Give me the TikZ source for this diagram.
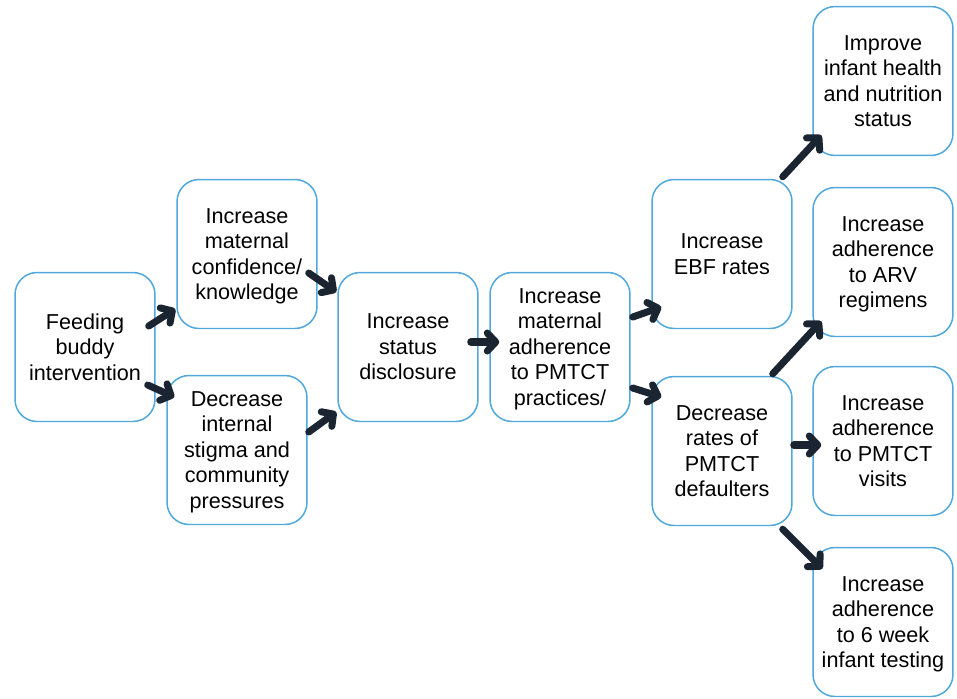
\documentclass[tikz,border=0pt]{standalone}
\usepackage{fontspec}
\setmainfont{Liberation Sans}
\usepackage{xcolor}
\usetikzlibrary{positioning, arrows.meta}

\definecolor{boxblue}{RGB}{80,168,220}
\definecolor{arrownavy}{RGB}{27,37,50}

\begin{document}
\begin{tikzpicture}[x=0.02cm, y=-0.02cm,
  stepbox/.style={draw=boxblue, line width=0.85pt, fill=white, rectangle,
    rounded corners=0.44cm, minimum width=2.8cm, minimum height=2.98cm,
    inner sep=0pt, align=center, font=\fontsize{12.3}{14.5}\selectfont,
    text depth=0pt, execute at begin node={\rule{0pt}{11pt}}},
  arr/.style={draw=arrownavy, line width=4pt, line cap=round,
    -{Straight Barb[length=0.17cm, width=0.36cm, line cap=round, line join=round]}}]

\useasboundingbox (0,0) rectangle (957,698);

\node [stepbox] (fb)   at (85, 347)  {Feeding\\buddy\\intervention};
\node [stepbox] (conf) at (247, 254) {Increase\\maternal\\confidence/\\knowledge};
\node [stepbox] (stig) at (237, 450) {Decrease\\internal\\stigma and\\community\\pressures};
\node [stepbox] (disc) at (408, 347) {Increase\\status\\disclosure};
\node [stepbox] (adh)  at (560, 347) {Increase\\maternal\\adherence\\to PMTCT\\practices/};
\node [stepbox] (ebf)  at (722, 254) {Increase\\EBF rates};
\node [stepbox] (def)  at (722, 451) {Decrease\\rates of\\PMTCT\\defaulters};
\node [stepbox] (imp)  at (883, 81)  {Improve\\infant health\\and nutrition\\status};
\node [stepbox] (arv)  at (883, 262) {Increase\\adherence\\to ARV\\regimens};
\node [stepbox] (vis)  at (883, 441) {Increase\\adherence\\to PMTCT\\visits};
\node [stepbox] (tst)  at (883, 622) {Increase\\adherence\\to 6 week\\infant testing};

\draw [arr] ([shift={(-7,-21)}]fb.east) -- ([shift={(-1,55)}]conf.west);
\draw [arr] ([shift={(-8,38)}]fb.east) -- ([shift={(8,-53)}]stig.west);

\draw [arr] ([shift={(-9,19)}]conf.east) -- ([shift={(-1,-55)}]disc.west);
\draw [arr] ([shift={(1,-18)}]stig.east) -- ([shift={(-1,65)}]disc.west);

\draw [arr] ([shift={(-8,-5)}]disc.east) -- ([shift={(10,-5)}]adh.west);

\draw [arr] ([shift={(2,-30)}]adh.east) -- ([shift={(10,53)}]ebf.west);
\draw [arr] ([shift={(2,41)}]adh.east) -- ([shift={(10,-54)}]def.west);

\draw [arr] ([shift={(-10,-2)}]ebf.north east) -- ([shift={(9,-21)}]imp.south west);
\draw [arr] ([shift={(-20,-2)}]def.north east) -- ([shift={(9,-16)}]arv.south west);
\draw [arr] ([shift={(1,-6)}]def.east) -- ([shift={(9,4)}]vis.west);
\draw [arr] ([shift={(-10,3)}]def.south east) -- ([shift={(10,22)}]tst.north west);

\end{tikzpicture}
\end{document}
